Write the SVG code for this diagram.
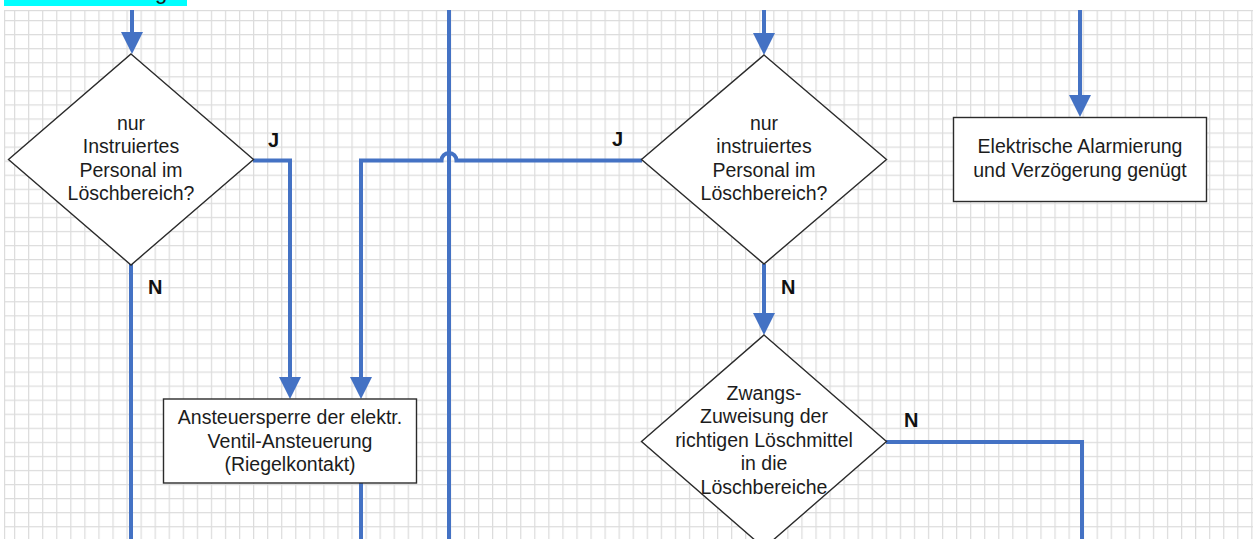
<svg xmlns="http://www.w3.org/2000/svg" width="1259" height="539" viewBox="0 0 1259 539">
<style>
.node{fill:#fff;stroke:#2b2b2b;stroke-width:1.4}
.t{font-family:"Liberation Sans",Arial,sans-serif;font-size:19.5px;fill:#1c1c1c;text-anchor:middle}
.lbl{font-family:"Liberation Sans",Arial,sans-serif;font-size:20px;font-weight:bold;fill:#111}
.c{fill:none;stroke:#4472C4;stroke-width:4}
</style>
<defs>
<pattern id="grid" x="14" y="20" width="14.06" height="14.06" patternUnits="userSpaceOnUse">
<rect x="0" y="0" width="1.2" height="14.06" fill="#dcdcdc"/>
<rect x="0" y="0" width="14.06" height="1.2" fill="#dcdcdc"/>
</pattern>
<marker id="ah" markerUnits="userSpaceOnUse" markerWidth="22" markerHeight="22" refX="0" refY="11" orient="auto">
<path d="M0,0 L22,11 L0,22 Z" fill="#4472C4"/>
</marker>
</defs>
<rect width="1259" height="539" fill="#fff"/>
<rect x="4" y="10" width="1249" height="529" fill="url(#grid)"/>
<rect x="4" y="10" width="1.2" height="529" fill="#dcdcdc"/>
<rect x="4" y="10" width="1249" height="1.2" fill="#dcdcdc"/>
<g id="header">
<rect x="4" y="0" width="183" height="6" fill="#00FFFF"/>
<text x="161" y="-1" class="t" style="font-size:22px">g</text>
</g>
<g id="connectors">
<path class="c" d="M132,10 V32" marker-end="url(#ah)"/>
<path class="c" d="M764,10 V33" marker-end="url(#ah)"/>
<path class="c" d="M1080,10 V95" marker-end="url(#ah)"/>
<path class="c" d="M253,160.5 H290 V377" marker-end="url(#ah)"/>
<path class="c" d="M131,264 V539"/>
<path class="c" d="M449,10 V539"/>
<path class="c" d="M642,160.5 H456.5 A7.5,7.5 0 0 0 441.5,160.5 H361 V377" marker-end="url(#ah)"/>
<path class="c" d="M361,483 V539"/>
<path class="c" d="M764,264 V313" marker-end="url(#ah)"/>
<path class="c" d="M886,442 H1082 V539"/>
<text class="lbl" x="268" y="146.5">J</text>
<text class="lbl" x="148" y="294">N</text>
<text class="lbl" x="612" y="146">J</text>
<text class="lbl" x="781" y="294">N</text>
<text class="lbl" x="904" y="427">N</text>
</g>
<g id="decision1">
<polygon class="node" points="131,54 253.5,159.5 131,265 8.5,159.5"/>
<text class="t" x="131" y="129.5">nur</text>
<text class="t" x="131" y="153">Instruiertes</text>
<text class="t" x="131" y="176.5">Personal im</text>
<text class="t" x="131" y="200">Löschbereich?</text>
</g>
<g id="box1">
<rect class="node" x="163.5" y="399" width="253" height="84"/>
<text class="t" x="290" y="424">Ansteuersperre der elektr.</text>
<text class="t" x="290" y="447.5">Ventil-Ansteuerung</text>
<text class="t" x="290" y="471">(Riegelkontakt)</text>
</g>
<g id="decision2">
<polygon class="node" points="764,55 886.5,159.5 764,264 641.5,159.5"/>
<text class="t" x="764" y="129.5">nur</text>
<text class="t" x="764" y="153">instruiertes</text>
<text class="t" x="764" y="176.5">Personal im</text>
<text class="t" x="764" y="200">Löschbereich?</text>
</g>
<g id="box2">
<rect class="node" x="953.5" y="117.5" width="253" height="84"/>
<text class="t" x="1080" y="153">Elektrische Alarmierung</text>
<text class="t" x="1080" y="176.5">und Verzögerung genügt</text>
</g>
<g id="decision3">
<polygon class="node" points="764,335 886.5,441.5 764,548 641.5,441.5"/>
<text class="t" x="764" y="399.5">Zwangs-</text>
<text class="t" x="764" y="423">Zuweisung der</text>
<text class="t" x="764" y="446.5">richtigen Löschmittel</text>
<text class="t" x="764" y="470">in die</text>
<text class="t" x="764" y="493.5">Löschbereiche</text>
</g>
</svg>
